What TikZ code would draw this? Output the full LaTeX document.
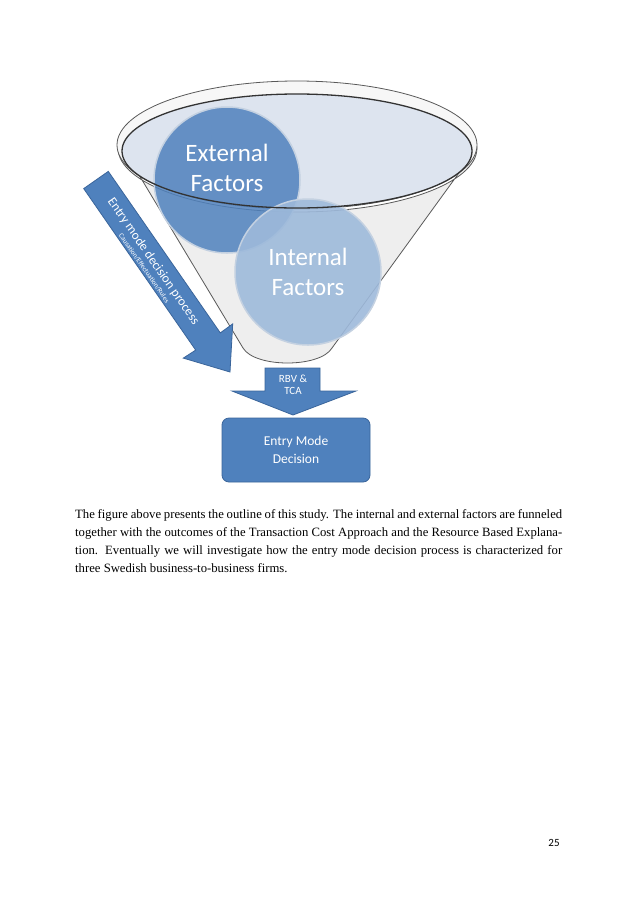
\documentclass[tikz,border=0pt]{standalone}
\usepackage{fontspec}
\setmainfont{Liberation Serif}
\newfontfamily\calfont{Carlito}
\begin{document}
\begin{tikzpicture}[x=1pt,y=-1pt,
  blue/.style={fill=arrowblue,draw=edgeblue,line width=0.8pt},
  circ/.style={circle,minimum size=146pt,draw=white!70!edgeblue,line width=1.5pt,font=\calfont\fontsize{25}{30}\selectfont,text=white,align=center}]
\definecolor{arrowblue}{HTML}{4F81BD}
\definecolor{edgeblue}{HTML}{3A659B}
\definecolor{rimfill}{HTML}{DDE4EF}
\useasboundingbox (0,0) rectangle (638,903);
\fill[white] (0,0) rectangle (638,903);
% funnel
\draw[fill=gray!13,draw=gray!70!black,line width=0.8pt] (118,140) -- (243,348) .. controls (255,368) and (320,368) .. (332,348) -- (477,148) arc[start angle=0,end angle=180,x radius=179.5,y radius=64] -- cycle;
\draw[draw=gray!70!black,line width=0.8pt,fill=gray!6] (297,145) ellipse[x radius=180,y radius=64];
\fill[fill=rimfill] (297,151) ellipse[x radius=175,y radius=57];
\node[circ,fill=arrowblue,fill opacity=0.85,text opacity=1,text depth=24pt] (ext) at (227,180) {External\\Factors};
\node[circ,fill=arrowblue!55!white,fill opacity=0.9,text opacity=1] (int) at (308,272) {Internal\\Factors};
\draw[line width=1.3pt,black!80] (297,151) ellipse[x radius=175,y radius=57];
% diagonal arrow
\draw[blue] (108.3,171.4) -- (220.3,332.9) -- (232.7,323.9) -- (230,372) -- (183.3,358.1) -- (195.7,350.1) -- (83.7,188.6) -- cycle;
\node[rotate=-55.2,text=white,align=center,inner sep=0] (lab) at (150,264) {{\calfont\fontsize{13}{14}\selectfont Entry mode decision process}\\[-2pt]{\calfont\fontsize{7}{8}\selectfont Causation/Effectuation/Rules}};
% RBV arrow
\draw[blue] (265,368) -- (320,368) -- (320,391) -- (356,391) -- (293,415) -- (232,391) -- (265,391) -- cycle;
\node[text=white,font=\calfont\fontsize{11}{12.5}\selectfont,align=center] (rbv) at (293,385) {RBV \&\\TCA};
\node[blue,rounded corners=7pt,minimum width=148pt,minimum height=64pt,text=white,font=\calfont\fontsize{13.5}{18}\selectfont,align=center] (dec) at (296,450) {Entry Mode\\Decision};
% caption
\node[anchor=north west,text width=487pt,align=justify,inner sep=0,font=\fontsize{12.7}{18}\selectfont] (txt) at (75,509) {The figure above presents the outline of this study. The internal and external factors are funneled together with the outcomes of the Transaction Cost Approach and the Resource Based Explanation. Eventually we will investigate how the entry mode decision process is characterized for three Swedish business-to-business firms.};
\node[font=\calfont\fontsize{11}{13}\selectfont] (pg) at (554,843) {25};
\end{tikzpicture}
\end{document}
